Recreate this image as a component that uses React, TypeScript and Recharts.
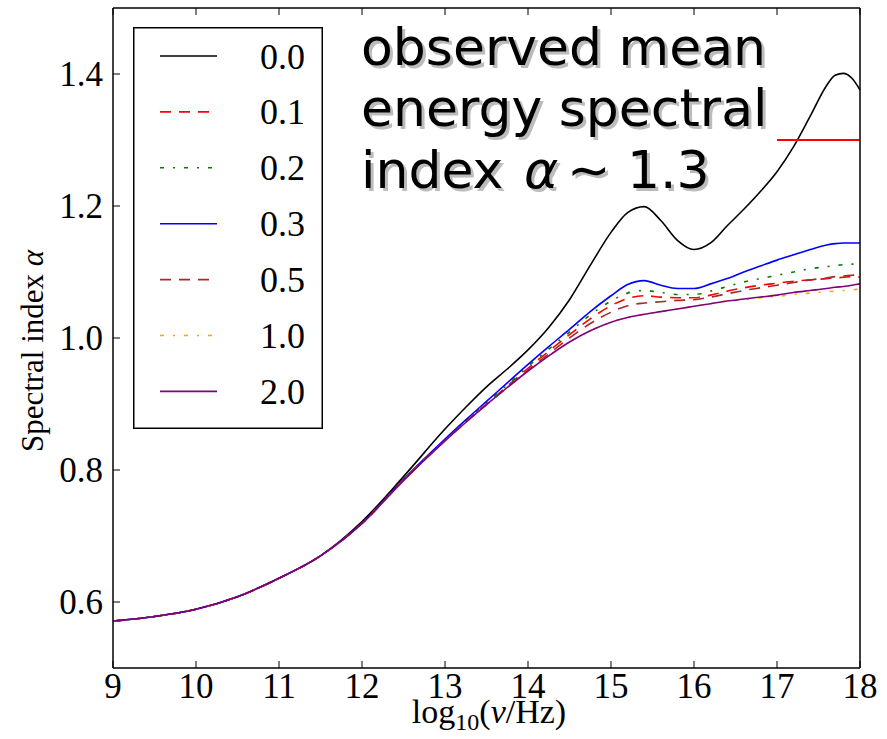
import { LineChart, Line, XAxis, YAxis, ReferenceLine, Legend } from "recharts";

// log10(nu/Hz) sample points
const X_VALUES = [
  9, 9.5, 10, 10.5, 11, 11.5, 12, 12.5, 13, 13.25, 13.5, 13.75, 14, 14.25, 14.5, 14.75,
  15, 15.2, 15.4, 15.6, 15.8, 16, 16.2, 16.4, 16.6, 16.8, 17, 17.2, 17.4, 17.6, 17.7, 17.8, 17.9, 18,
];

// spectral index for each curve (same x points as above)
const ALPHA_00 = [
  0.571, 0.578, 0.589, 0.608, 0.636, 0.67, 0.722, 0.79, 0.862, 0.895, 0.926, 0.953, 0.982, 1.016, 1.058, 1.11,
  1.16, 1.19, 1.199, 1.178, 1.148, 1.134, 1.144, 1.17, 1.195, 1.222, 1.252, 1.29, 1.336, 1.383, 1.398, 1.401, 1.394, 1.376,
];
const ALPHA_01 = [
  0.571, 0.578, 0.589, 0.608, 0.636, 0.67, 0.719, 0.785, 0.845, 0.873, 0.9, 0.927, 0.954, 0.98, 1.005, 1.029,
  1.049, 1.06, 1.064, 1.062, 1.061, 1.061, 1.065, 1.071, 1.076, 1.08, 1.083, 1.086, 1.088, 1.09, 1.091, 1.092, 1.093, 1.092,
];
const ALPHA_02 = [
  0.571, 0.578, 0.589, 0.608, 0.636, 0.67, 0.719, 0.785, 0.846, 0.875, 0.902, 0.929, 0.957, 0.983, 1.009, 1.035,
  1.056, 1.068, 1.072, 1.069, 1.066, 1.066, 1.071, 1.078, 1.085, 1.09, 1.095, 1.1, 1.105, 1.108, 1.11, 1.111, 1.112, 1.112,
];
const ALPHA_03 = [
  0.571, 0.578, 0.589, 0.608, 0.636, 0.67, 0.719, 0.786, 0.847, 0.876, 0.904, 0.932, 0.96, 0.987, 1.013, 1.04,
  1.064, 1.081, 1.087, 1.08, 1.075, 1.075, 1.082, 1.09, 1.1, 1.109, 1.118, 1.126, 1.134, 1.141, 1.143, 1.144, 1.144, 1.144,
];
const ALPHA_05 = [
  0.571, 0.578, 0.589, 0.608, 0.636, 0.67, 0.719, 0.785, 0.845, 0.873, 0.899, 0.925, 0.951, 0.976, 1.0, 1.022,
  1.039, 1.049, 1.053, 1.055, 1.057, 1.058, 1.062, 1.067, 1.072, 1.076, 1.08, 1.084, 1.088, 1.091, 1.093, 1.094, 1.095, 1.096,
];
const ALPHA_10 = [
  0.571, 0.578, 0.589, 0.608, 0.636, 0.67, 0.719, 0.784, 0.844, 0.872, 0.899, 0.925, 0.95, 0.973, 0.994, 1.011,
  1.024, 1.031, 1.036, 1.04, 1.044, 1.048, 1.052, 1.056, 1.058, 1.061, 1.063, 1.066, 1.068, 1.07, 1.071, 1.072, 1.073, 1.074,
];
const ALPHA_20 = [
  0.571, 0.578, 0.589, 0.608, 0.636, 0.67, 0.719, 0.784, 0.844, 0.872, 0.899, 0.925, 0.95, 0.973, 0.994, 1.011,
  1.024, 1.031, 1.036, 1.04, 1.044, 1.048, 1.052, 1.056, 1.059, 1.062, 1.065, 1.069, 1.072, 1.075, 1.077, 1.078, 1.08, 1.082,
];

const X_TICKS = [9, 10, 11, 12, 13, 14, 15, 16, 17, 18];
const Y_TICKS = [0.6, 0.8, 1.0, 1.2, 1.4];

// observed mean index, drawn over 17..18
const OBSERVED_ALPHA = 1.3;
const OBSERVED_FROM = 17;
const OBSERVED_TO = 18;

const SERIES = [
  { key: "a00", label: "0.0", values: ALPHA_00, color: "#000000", dash: undefined },
  { key: "a01", label: "0.1", values: ALPHA_01, color: "#ff0000", dash: "11 8" },
  { key: "a02", label: "0.2", values: ALPHA_02, color: "#008000", dash: "4 9 2 9" },
  { key: "a03", label: "0.3", values: ALPHA_03, color: "#0000ff", dash: undefined },
  { key: "a05", label: "0.5", values: ALPHA_05, color: "#a52a2a", dash: "11 8" },
  { key: "a10", label: "1.0", values: ALPHA_10, color: "#ffa500", dash: "4 9 2 9" },
  { key: "a20", label: "2.0", values: ALPHA_20, color: "#800080", dash: undefined },
];

const data = X_VALUES.map((x, i) => {
  const row: Record<string, number> = { x };
  SERIES.forEach((s) => (row[s.key] = s.values[i]));
  return row;
});

const W = 887;
const H = 739;
const PLOT = { left: 113, top: 8, right: 860, bottom: 668 };
const SERIF = "'Liberation Serif', 'DejaVu Serif', serif";
const SANS = "'DejaVu Sans', sans-serif";
const TICK_LEN = 7;

// eslint-disable-next-line @typescript-eslint/no-explicit-any
function BottomTick(props: any) {
  const { x, payload } = props;
  return (
    <g>
      <line x1={x} x2={x} y1={PLOT.bottom} y2={PLOT.bottom - TICK_LEN} stroke="#000" />
      <text x={x} y={698} textAnchor="middle" fontFamily={SERIF} fontSize={35} fill="#000">
        {payload.value}
      </text>
    </g>
  );
}

// eslint-disable-next-line @typescript-eslint/no-explicit-any
function TopTick(props: any) {
  const { x } = props;
  return <line x1={x} x2={x} y1={PLOT.top} y2={PLOT.top + TICK_LEN} stroke="#000" />;
}

// eslint-disable-next-line @typescript-eslint/no-explicit-any
function LeftTick(props: any) {
  const { y, payload } = props;
  return (
    <g>
      <line x1={PLOT.left} x2={PLOT.left + TICK_LEN} y1={y} y2={y} stroke="#000" />
      <text x={103} y={y + 12} textAnchor="end" fontFamily={SERIF} fontSize={35} fill="#000">
        {Number(payload.value).toFixed(1)}
      </text>
    </g>
  );
}

// eslint-disable-next-line @typescript-eslint/no-explicit-any
function RightTick(props: any) {
  const { y } = props;
  return <line x1={PLOT.right} x2={PLOT.right - TICK_LEN} y1={y} y2={y} stroke="#000" />;
}

function LegendBox() {
  const w = 190;
  const h = 402;
  return (
    <svg width={w} height={h} style={{ display: "block" }}>
      <rect x={0.75} y={0.75} width={w - 1.5} height={h - 1.5} fill="#fff" stroke="#000" strokeWidth={1.5} />
      {SERIES.map((s, i) => {
        const y = 29 + i * 55.9;
        return (
          <g key={s.key}>
            <line x1={27} x2={84} y1={y} y2={y} stroke={s.color} strokeWidth={1.6} strokeDasharray={s.dash} />
            <text x={127} y={y + 12.5} fontFamily={SERIF} fontSize={36} fill="#000">
              {s.label}
            </text>
          </g>
        );
      })}
    </svg>
  );
}

// big annotation with drop shadow, plus the axis titles
function Overlay() {
  const note = (dx: number, dy: number, fill: string) => (
    <g transform={`translate(${dx} ${dy})`} fill={fill} fontFamily={SANS} fontSize={52}>
      <text x={361} y={65}>observed mean</text>
      <text x={361} y={126}>energy spectral</text>
      <text x={361} y={188}>index</text>
      <text x={524} y={188} fontStyle="italic">α</text>
      <text x={567} y={188}>∼</text>
      <text x={627} y={188}>1.3</text>
    </g>
  );
  return (
    <svg width={W} height={H} style={{ position: "absolute", left: 0, top: 0, pointerEvents: "none" }}>
      {note(3, 3, "#bcbcbc")}
      {note(0, 0, "#000")}
      <text
        transform="translate(43 351) rotate(-90)"
        textAnchor="middle"
        fontFamily={SERIF}
        fontSize={31}
        fill="#000"
      >
        Spectral index <tspan fontStyle="italic">α</tspan>
      </text>
      <text x={489} y={723} textAnchor="middle" fontFamily={SERIF} fontSize={34} fill="#000">
        log<tspan fontSize={24} dy={7}>10</tspan>
        <tspan dy={-7}>(</tspan>
        <tspan fontStyle="italic">ν</tspan>/Hz)
      </text>
    </svg>
  );
}

export default function App() {
  return (
    <div style={{ position: "absolute", left: 0, top: 0, width: W, height: H, background: "#fff" }}>
      <LineChart
        width={W}
        height={H}
        data={data}
        margin={{ top: PLOT.top - 1, right: W - PLOT.right - 1, left: 0, bottom: 0 }}
      >
        <XAxis
          dataKey="x"
          type="number"
          domain={[9, 18]}
          ticks={X_TICKS}
          interval={0}
          height={H - PLOT.bottom}
          axisLine={{ stroke: "#000", strokeWidth: 1.5 }}
          tickLine={false}
          tick={<BottomTick />}
        />
        <XAxis
          xAxisId="top"
          dataKey="x"
          type="number"
          orientation="top"
          domain={[9, 18]}
          ticks={X_TICKS}
          interval={0}
          height={1}
          axisLine={{ stroke: "#000", strokeWidth: 1.5 }}
          tickLine={false}
          tick={<TopTick />}
        />
        <YAxis
          type="number"
          domain={[0.5, 1.5]}
          ticks={Y_TICKS}
          interval={0}
          width={PLOT.left}
          axisLine={{ stroke: "#000", strokeWidth: 1.5 }}
          tickLine={false}
          tick={<LeftTick />}
        />
        <YAxis
          yAxisId="right"
          type="number"
          orientation="right"
          domain={[0.5, 1.5]}
          ticks={Y_TICKS}
          interval={0}
          width={1}
          axisLine={{ stroke: "#000", strokeWidth: 1.5 }}
          tickLine={false}
          tick={<RightTick />}
        />
        {SERIES.map((s) => (
          <Line
            key={s.key}
            dataKey={s.key}
            type="monotone"
            stroke={s.color}
            strokeWidth={1.6}
            strokeDasharray={s.dash}
            dot={false}
            activeDot={false}
            isAnimationActive={false}
          />
        ))}
        <ReferenceLine
          segment={[
            { x: OBSERVED_FROM, y: OBSERVED_ALPHA },
            { x: OBSERVED_TO, y: OBSERVED_ALPHA },
          ]}
          stroke="#ff0000"
          strokeWidth={1.8}
        />
        <Legend
          layout="vertical"
          align="center"
          verticalAlign="middle"
          content={<LegendBox />}
          wrapperStyle={{ position: "absolute", left: 133, top: 27, width: 190, height: 402 }}
        />
      </LineChart>
      <Overlay />
    </div>
  );
}
